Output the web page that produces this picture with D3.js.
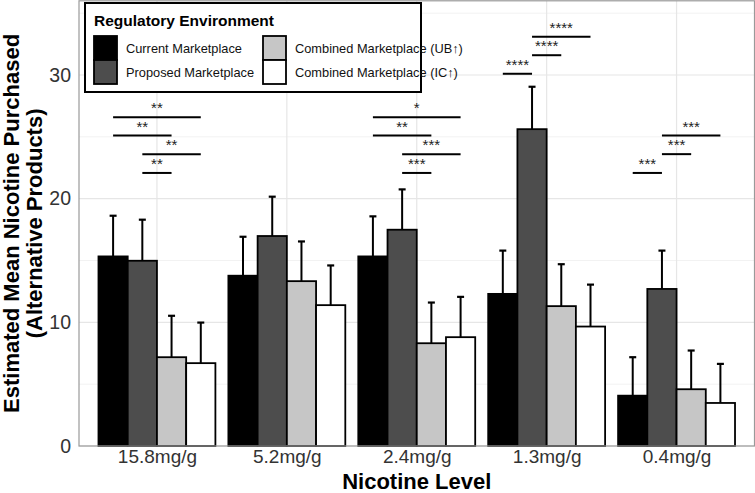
<!DOCTYPE html>
<html>
<head>
<meta charset="utf-8">
<script src="https://cdn.jsdelivr.net/npm/d3@7"></script>
<style>
  html, body { margin: 0; padding: 0; background: #ffffff; }
  svg { display: block; font-family: "Liberation Sans", Arial, sans-serif; }
</style>
</head>
<body>
<svg id="chart" width="755" height="493"></svg>
<script>
// ---------- DATA ----------
const categories = ["15.8mg/g", "5.2mg/g", "2.4mg/g", "1.3mg/g", "0.4mg/g"];
const seriesNames = [
  "Current Marketplace",
  "Proposed Marketplace",
  "Combined Marketplace (UB\u2191)",
  "Combined Marketplace (IC\u2191)"
];
const currentMean  = [15.33, 13.77, 15.33, 12.30, 4.07];
const proposedMean = [14.98, 16.98, 17.49, 25.62, 12.70];
const combinedUBMean = [7.18, 13.33, 8.31, 11.31, 4.59];
const combinedICMean = [6.70, 11.39, 8.80, 9.66, 3.48];
const currentUpper  = [18.62, 16.92, 18.57, 15.80, 7.18];
const proposedUpper = [18.30, 20.16, 20.75, 29.05, 15.80];
const combinedUBUpper = [10.53, 16.54, 11.60, 14.70, 7.72];
const combinedICUpper = [9.98, 14.60, 12.06, 13.05, 6.64];
const yTicks = [0, 10, 20, 30];
// significance brackets: group index, from series, to series, height, label
const sigGroup = [0, 0, 0, 0, 2, 2, 2, 2, 3, 3, 3, 4, 4, 4];
const sigFrom  = [0, 0, 1, 1, 0, 0, 1, 1, 1, 1, 0, 1, 1, 0];
const sigTo    = [3, 2, 3, 2, 3, 2, 3, 2, 3, 2, 1, 3, 2, 1];
const sigY     = [26.58, 25.10, 23.60, 22.08, 26.58, 25.10, 23.60, 22.08, 33.10, 31.60, 30.10, 25.10, 23.60, 22.08];
const sigLabel = ["**", "**", "**", "**", "*", "**", "***", "***", "****", "****", "****", "***", "***", "***"];

const means = [currentMean, proposedMean, combinedUBMean, combinedICMean];
const uppers = [currentUpper, proposedUpper, combinedUBUpper, combinedICUpper];
const fills = ["#000000", "#4d4d4d", "#c6c6c6", "#ffffff"];

// ---------- SCALES ----------
const svg = d3.select("#chart");
const panel = { left: 79, right: 754.5, top: 0.8, bottom: 446 };
const x = d3.scaleLinear().domain([0.4, categories.length + 0.6]).range([panel.left, panel.right]);
const unit = x(2) - x(1);
const y = d3.scaleLinear().domain([0, 36]).range([panel.bottom, panel.top]);
const barW = 0.9 * unit / 4;
const barX = (g, s) => x(g + 1) + (s - 1.5) * barW;           // bar center

// ---------- GRID ----------
const grid = svg.append("g");
const minor = [5, 15, 25, 35];
grid.selectAll("line.minor").data(minor).join("line")
  .attr("x1", panel.left).attr("x2", panel.right)
  .attr("y1", d => y(d)).attr("y2", d => y(d))
  .attr("stroke", "#f2f2f2").attr("stroke-width", 1);
grid.selectAll("line.major").data(yTicks).join("line")
  .attr("x1", panel.left).attr("x2", panel.right)
  .attr("y1", d => y(d)).attr("y2", d => y(d))
  .attr("stroke", "#e6e6e6").attr("stroke-width", 1.2);
grid.selectAll("line.vmajor").data(categories).join("line")
  .attr("x1", (d, i) => x(i + 1)).attr("x2", (d, i) => x(i + 1))
  .attr("y1", panel.top).attr("y2", panel.bottom)
  .attr("stroke", "#e6e6e6").attr("stroke-width", 1.2);

// ---------- BARS ----------
const barsG = svg.append("g");
means.forEach((arr, s) => {
  // error bars (upper only)
  barsG.selectAll(null).data(arr).join("line")
    .attr("x1", (d, g) => barX(g, s)).attr("x2", (d, g) => barX(g, s))
    .attr("y1", d => y(d)).attr("y2", (d, g) => y(uppers[s][g]))
    .attr("stroke", "#000").attr("stroke-width", 2);
  barsG.selectAll(null).data(arr).join("line")
    .attr("x1", (d, g) => barX(g, s) - 3.5).attr("x2", (d, g) => barX(g, s) + 3.5)
    .attr("y1", (d, g) => y(uppers[s][g])).attr("y2", (d, g) => y(uppers[s][g]))
    .attr("stroke", "#000").attr("stroke-width", 2.2);
});
means.forEach((arr, s) => {
  barsG.selectAll(null).data(arr).join("rect")
    .attr("x", (d, g) => barX(g, s) - barW / 2)
    .attr("width", barW)
    .attr("y", d => y(d))
    .attr("height", d => y(0) - y(d))
    .attr("fill", fills[s])
    .attr("stroke", "#000").attr("stroke-width", 1.8);
});

// ---------- PANEL BORDER ----------
svg.append("rect")
  .attr("x", panel.left).attr("y", panel.top)
  .attr("width", panel.right - panel.left).attr("height", panel.bottom - panel.top)
  .attr("fill", "none").attr("stroke", "#9a9a9a").attr("stroke-width", 1.2);

// ---------- SIGNIFICANCE ----------
const sigG = svg.append("g");
sigGroup.forEach((g, k) => {
  const x1 = barX(g, sigFrom[k]), x2 = barX(g, sigTo[k]);
  const yy = y(sigY[k]);
  sigG.append("line")
    .attr("x1", x1).attr("x2", x2).attr("y1", yy).attr("y2", yy)
    .attr("stroke", "#000").attr("stroke-width", 2);
  sigG.append("text")
    .attr("x", (x1 + x2) / 2).attr("y", yy - 4)
    .attr("text-anchor", "middle")
    .attr("font-size", 15).attr("fill", "#222")
    .text(sigLabel[k]);
});

// ---------- AXES ----------
const yAxis = d3.axisLeft(y).tickValues(yTicks).tickSize(0).tickPadding(8);
svg.append("g").attr("transform", `translate(${panel.left},0)`).call(yAxis)
  .call(g => g.select(".domain").remove())
  .call(g => g.selectAll("text").attr("font-size", 19.5).attr("fill", "#333")
    .attr("font-family", "Liberation Sans, Arial, sans-serif"));

const xAxis = d3.axisBottom(x).tickValues(categories.map((c, i) => i + 1))
  .tickFormat((d) => categories[d - 1]).tickSize(0).tickPadding(4);
svg.append("g").attr("transform", `translate(0,${panel.bottom})`).call(xAxis)
  .call(g => g.select(".domain").remove())
  .call(g => g.selectAll("text").attr("font-size", 19).attr("fill", "#333")
    .attr("font-family", "Liberation Sans, Arial, sans-serif"));

// axis titles
svg.append("text")
  .attr("x", x(3)).attr("y", 488.5)
  .attr("text-anchor", "middle").attr("font-size", 22).attr("font-weight", "bold")
  .attr("fill", "#000").text("Nicotine Level");

const yTitle = svg.append("text")
  .attr("transform", `translate(0,${(panel.top + panel.bottom) / 2}) rotate(-90)`)
  .attr("text-anchor", "middle").attr("font-size", 22).attr("font-weight", "bold").attr("fill", "#000");
yTitle.append("tspan").attr("x", 0).attr("y", 19).text("Estimated Mean Nicotine Purchased");
yTitle.append("tspan").attr("x", 0).attr("y", 42).text("(Alternative Products)");

// ---------- LEGEND ----------
const lg = svg.append("g");
lg.append("rect").attr("x", 85).attr("y", 3).attr("width", 336).attr("height", 89)
  .attr("fill", "#fff").attr("stroke", "#000").attr("stroke-width", 2);
lg.append("text").attr("x", 94).attr("y", 26).attr("font-size", 15.5).attr("font-weight", "bold")
  .attr("fill", "#000").text("Regulatory Environment");
const colX = [94, 263];
seriesNames.forEach((name, s) => {
  const col = Math.floor(s / 2), row = s % 2;
  const kx = colX[col], ky = 36 + row * 24;
  lg.append("rect").attr("x", kx).attr("y", ky).attr("width", 23).attr("height", 24)
    .attr("fill", fills[s]).attr("stroke", "#000").attr("stroke-width", 1.8);
  lg.append("text").attr("x", kx + 32).attr("y", ky + 17)
    .attr("font-size", 12.8).attr("fill", "#111").text(name);
});
</script>
</body>
</html>
